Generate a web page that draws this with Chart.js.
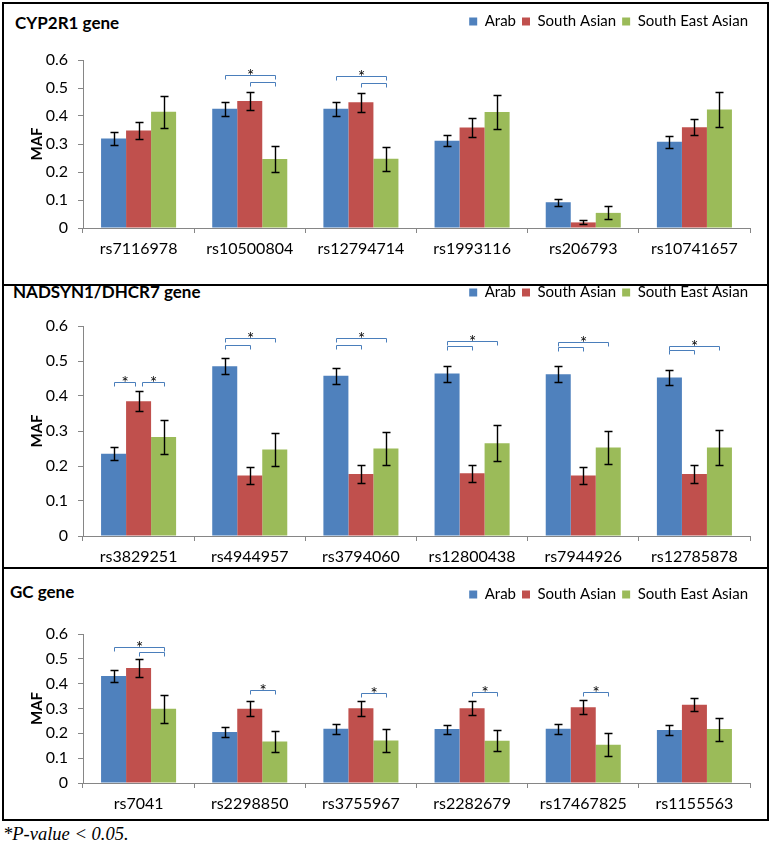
<!DOCTYPE html>
<html><head><meta charset="utf-8">
<script src="https://cdn.jsdelivr.net/npm/chart.js@4/dist/chart.umd.min.js"></script>
<style>
html,body{margin:0;padding:0;background:#fff}
body{width:772px;height:845px;position:relative;overflow:hidden;font-family:Lato,sans-serif}
.panel{position:absolute;border:2px solid #000;box-sizing:border-box;left:2px;width:767px}
canvas{position:absolute;left:0}
.title{position:absolute;font-weight:bold;font-size:17px;line-height:20px;color:#000;font-family:Lato,sans-serif}
.foot{position:absolute;left:3px;top:824px;font-family:'Liberation Serif',serif;font-style:italic;font-size:18.5px;line-height:20px}
</style></head>
<body>
<div class="panel" style="top:2px;height:284px"></div>
<div class="panel" style="top:284px;height:285px"></div>
<div class="panel" style="top:567px;height:254px"></div>
<div class="title" style="left:15px;top:13px">CYP2R1 gene</div>
<div class="title" style="left:13px;top:282px">NADSYN1/DHCR7 gene</div>
<div class="title" style="left:10px;top:582px">GC gene</div>
<canvas id="c1"></canvas>
<canvas id="c2"></canvas>
<canvas id="c3"></canvas>
<div class="foot">*P-value &lt; 0.05.</div>
<script>
// ---- data ----
const groups = ['Arab', 'South Asian', 'South East Asian'];

const cyp2r1Snps = ['rs7116978','rs10500804','rs12794714','rs1993116','rs206793','rs10741657'];
const cyp2r1Arab = [0.320,0.426,0.426,0.312,0.092,0.308];
const cyp2r1SouthAsian = [0.348,0.454,0.449,0.359,0.020,0.360];
const cyp2r1SouthEastAsian = [0.415,0.246,0.247,0.414,0.054,0.423];
const cyp2r1ArabErr = [0.023,0.025,0.025,0.020,0.012,0.021];
const cyp2r1SouthAsianErr = [0.031,0.032,0.034,0.033,0.007,0.028];
const cyp2r1SouthEastAsianErr = [0.057,0.047,0.042,0.060,0.023,0.063];
// [category, from group, to group, bracket level, star]
const cyp2r1Sig = [[1,0,2,0.546,true],[1,1,2,0.522,false],[2,0,2,0.543,true],[2,1,2,0.519,false]];

const nadSnps = ['rs3829251','rs4944957','rs3794060','rs12800438','rs7944926','rs12785878'];
const nadArab = [0.235,0.485,0.458,0.464,0.462,0.453];
const nadSouthAsian = [0.385,0.173,0.177,0.179,0.173,0.177];
const nadSouthEastAsian = [0.283,0.247,0.250,0.265,0.253,0.253];
const nadArabErr = [0.019,0.023,0.023,0.023,0.023,0.021];
const nadSouthAsianErr = [0.028,0.025,0.025,0.025,0.023,0.025];
const nadSouthEastAsianErr = [0.048,0.046,0.048,0.051,0.046,0.049];
const nadSig = [[0,0,1,0.439,true],[0,1,2,0.439,true],
  [1,0,2,0.566,true],[1,0,1,0.547,false],[2,0,2,0.566,true],[2,0,1,0.547,false],
  [3,0,2,0.557,true],[3,0,1,0.542,false],[4,0,2,0.555,true],[4,0,1,0.539,false],
  [5,0,2,0.544,true],[5,0,1,0.530,false]];

const gcSnps = ['rs7041','rs2298850','rs3755967','rs2282679','rs17467825','rs1155563'];
const gcArab = [0.431,0.205,0.218,0.217,0.218,0.213];
const gcSouthAsian = [0.463,0.299,0.301,0.301,0.305,0.315];
const gcSouthEastAsian = [0.299,0.167,0.171,0.170,0.154,0.217];
const gcArabErr = [0.023,0.020,0.020,0.018,0.020,0.020];
const gcSouthAsianErr = [0.035,0.030,0.030,0.029,0.029,0.026];
const gcSouthEastAsianErr = [0.056,0.044,0.046,0.043,0.046,0.046];
const gcSig = [[0,0,2,0.546,true],[0,1,2,0.529,false],[1,1,2,0.375,true],[2,1,2,0.362,true],[3,1,2,0.368,true],[4,1,2,0.366,true]];

const yTicks = [0,0.1,0.2,0.3,0.4,0.5,0.6];

// ---- styling ----
const colors = ['#4F81BD','#C0504D','#9BBB59'];
const FONT = 'Lato';

const fixLegendPlugin = {
  id: 'fixLegend',
  beforeLayout(chart, args, opts) {
    const lg = chart.legend;
    if (lg && !lg._patched) {
      const f = lg.fit.bind(lg);
      lg.fit = function () { f(); this.height = opts.height; };
      lg._patched = true;
    }
  }
};

const errorBarPlugin = {
  id: 'errorBars',
  afterDatasetsDraw(chart, args, opts) {
    const ctx = chart.ctx, y = chart.scales.y;
    ctx.save();
    ctx.strokeStyle = '#000';
    ctx.lineWidth = 1.4;
    chart.data.datasets.forEach((ds, di) => {
      const meta = chart.getDatasetMeta(di);
      const errs = opts.errors[di];
      meta.data.forEach((bar, i) => {
        const v = ds.data[i], e = errs[i];
        const x = Math.round(bar.x) + 0.5;
        const yt = Math.round(y.getPixelForValue(v + e)) + 0.5;
        const yb = Math.round(y.getPixelForValue(v - e)) + 0.5;
        ctx.beginPath();
        ctx.moveTo(x, yt); ctx.lineTo(x, yb);
        ctx.moveTo(x - 4, yt); ctx.lineTo(x + 4, yt);
        ctx.moveTo(x - 4, yb); ctx.lineTo(x + 4, yb);
        ctx.stroke();
      });
    });
    ctx.restore();
  }
};

const sigPlugin = {
  id: 'sigBrackets',
  afterDatasetsDraw(chart, args, opts) {
    const ctx = chart.ctx, y = chart.scales.y;
    const items = opts.items || [];
    ctx.save();
    items.forEach((it, k) => {
      const [cat, a, b, level, star] = it;
      let xa = chart.getDatasetMeta(a).data[cat].x;
      let xb = chart.getDatasetMeta(b).data[cat].x;
      items.forEach((o, j) => {
        if (j === k || o[0] !== cat || o[3] !== level) return;
        if (o[2] === a) xa += 3;
        if (o[1] === b) xb -= 4;
      });
      xa = Math.round(xa) + 0.5; xb = Math.round(xb) + 0.5;
      const yy = Math.round(y.getPixelForValue(level)) + 0.5;
      ctx.strokeStyle = '#4A7EBB';
      ctx.lineWidth = 1;
      ctx.beginPath();
      ctx.moveTo(xa, yy + 4); ctx.lineTo(xa, yy); ctx.lineTo(xb, yy); ctx.lineTo(xb, yy + 4);
      ctx.stroke();
      if (star) {
        ctx.fillStyle = '#000';
        ctx.font = '17px ' + FONT;
        ctx.textAlign = 'center';
        ctx.textBaseline = 'alphabetic';
        ctx.fillText('*', (xa + xb) / 2, yy + 6);
      }
    });
    ctx.restore();
  }
};

function build(cfg) {
  const cv = document.getElementById(cfg.id);
  cv.width = 772; cv.height = cfg.h;
  cv.style.top = cfg.top + 'px';
  cv.style.width = '772px'; cv.style.height = cfg.h + 'px';
  new Chart(cv, {
    type: 'bar',
    data: {
      labels: cfg.labels,
      datasets: groups.map((g, i) => ({
        label: g, data: cfg.values[i], backgroundColor: colors[i], borderWidth: 0,
        categoryPercentage: 0.675, barPercentage: 1.0
      }))
    },
    options: {
      responsive: false, animation: false, devicePixelRatio: 1,
      layout: { padding: { top: 8, left: 0, right: 18, bottom: 0 } },
      plugins: {
        legend: {
          position: 'top', align: 'end',
          labels: { boxWidth: 8, boxHeight: 8, padding: 6, color: '#000', font: { family: FONT, size: 15 } }
        },
        tooltip: { enabled: false },
        fixLegend: { height: cfg.areaTop - 8 },
        errorBars: { errors: cfg.errors },
        sigBrackets: { items: cfg.sig }
      },
      scales: {
        x: {
          grid: { offset: true, drawOnChartArea: false, drawTicks: true, tickLength: 5, color: '#868686' },
          border: { color: '#868686' },
          ticks: { color: '#000', padding: 6, font: { family: FONT, size: 16 } },
          afterFit(s) { s.height = cfg.h - cfg.areaBottom; }
        },
        y: {
          min: 0, max: 0.6,
          afterBuildTicks(s) { s.ticks = yTicks.map(v => ({ value: v })); },
          ticks: { color: '#000', padding: 10, font: { family: FONT, size: 16 },
            callback: v => (v === 0 ? '0' : v.toFixed(1)) },
          grid: { drawOnChartArea: false, drawTicks: true, tickLength: 5, color: '#868686' },
          border: { color: '#868686' },
          title: { display: true, text: 'MAF', color: '#000', font: { family: FONT, size: 15, weight: 'bold' }, padding: { top: 28, bottom: 0 } },
          afterFit(s) { s.width = 83; }
        },
        yRight: {
          type: 'linear', position: 'right', display: true,
          grid: { display: false }, border: { display: false }, ticks: { display: false },
          afterFit(s) { s.width = 4; }
        }
      }
    },
    plugins: [fixLegendPlugin, errorBarPlugin, sigPlugin]
  });
}

build({ id: 'c1', top: 0, h: 270, areaTop: 60, areaBottom: 228, labels: cyp2r1Snps,
  values: [cyp2r1Arab, cyp2r1SouthAsian, cyp2r1SouthEastAsian],
  errors: [cyp2r1ArabErr, cyp2r1SouthAsianErr, cyp2r1SouthEastAsianErr], sig: cyp2r1Sig });
build({ id: 'c2', top: 271, h: 295, areaTop: 55, areaBottom: 265, labels: nadSnps,
  values: [nadArab, nadSouthAsian, nadSouthEastAsian],
  errors: [nadArabErr, nadSouthAsianErr, nadSouthEastAsianErr], sig: nadSig });
build({ id: 'c3', top: 573, h: 245, areaTop: 61, areaBottom: 210, labels: gcSnps,
  values: [gcArab, gcSouthAsian, gcSouthEastAsian],
  errors: [gcArabErr, gcSouthAsianErr, gcSouthEastAsianErr], sig: gcSig });
</script>
</body></html>
